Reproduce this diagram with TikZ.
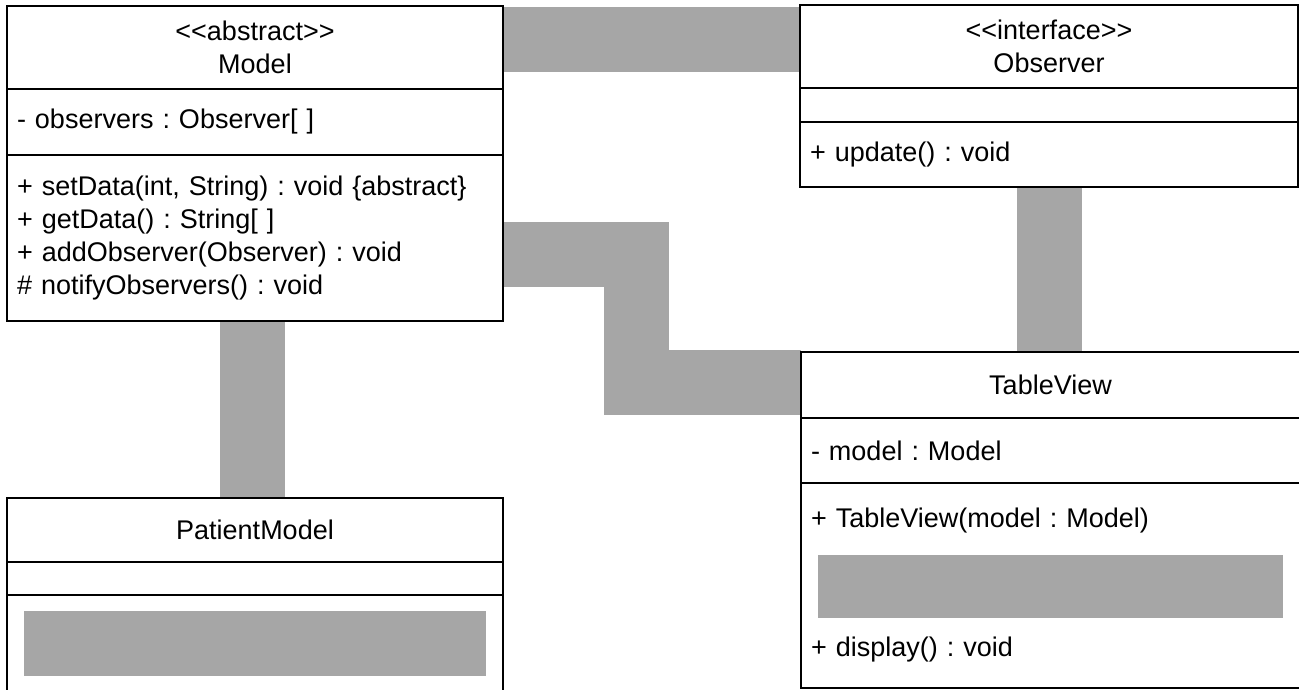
\documentclass[tikz,border=0pt]{standalone}
\usepackage{fontspec}
\setmainfont{Liberation Sans}[Ligatures=TeXOff]
\usetikzlibrary{positioning,backgrounds}
\frenchspacing
\tikzset{class head/.style={rectangle,draw,line width=2pt,fill=white,outer sep=0pt,inner sep=0pt,align=center,font=\fontsize{27}{33}\selectfont},
  class part/.style={rectangle,draw,line width=2pt,fill=white,outer sep=0pt,inner xsep=10pt,inner ysep=0pt,align=left,font=\fontsize{27}{33}\selectfont},
  cover/.style={draw=black!35,line width=65pt},
  cover block/.style={fill=black!35,inner sep=0pt},}

\begin{document}
\begin{tikzpicture}[x=1pt,y=-1pt]
    \useasboundingbox (0,0) rectangle (1299,690);

    \begin{scope}
    \node[class head,minimum width=496pt,minimum height=83pt] (model1) at (255,47.5) {<<abstract>>\\Model};
    \node[class part,text width=476pt,minimum height=66pt] (model2) [below=0pt of model1] {- observers : Observer[ ]};
    \node[class part,text width=476pt,minimum height=166pt] (model3) [below=0pt of model2] {+ setData(int, String) : void \{abstract\}\\+ getData() : String[ ]\\+ addObserver(Observer) : void\\\# notifyObservers() : void};
    \end{scope}

    \begin{scope}
    \node[class head,minimum width=498pt,minimum height=83pt] (observer1) at (1049,46.5) {<<interface>>\\Observer};
    \node[class part,text width=478pt,minimum height=34pt] (observer2) [below=0pt of observer1] {};
    \node[class part,text width=478pt,minimum height=65pt] (observer3) [below=0pt of observer2] {+ update() : void};
    \end{scope}

    \begin{scope}
    \node[class head,minimum width=496pt,minimum height=64pt] (patient1) at (255,530) {PatientModel};
    \node[class part,text width=476pt,minimum height=33pt] (patient2) [below=0pt of patient1] {};
    \node[class part,text width=476pt,minimum height=97pt] (patient3) [below=0pt of patient2] {};
    \node[cover block,minimum width=462pt,minimum height=65pt] (patient4) at (patient3.center) {};
    \end{scope}

    \begin{scope}
    \node[class head,minimum width=499pt,minimum height=66pt] (table1) at (1050.5,385) {TableView};
    \node[class part,text width=479pt,minimum height=65pt] (table2) [below=0pt of table1] {- model : Model};
    \node[class part,text width=479pt,minimum height=205pt] (table3) [below=0pt of table2] {+ TableView(model : Model)\\[96pt]+ display() : void};
    \node[cover block,minimum width=465pt,minimum height=63pt] (table4) at ([yshift=-1pt]table3.center) {};
    \end{scope}

    \begin{scope}[on background layer]
    \path[cover]
    ([yshift=8pt]model1.east) -- ([yshift=8pt]model1.east -| observer1.west)
    ([yshift=-16pt]model3.east) -- ++(133,0) |- ([yshift=2.5pt]table1.west)
    (observer3.south) -- (observer3.south |- table1.north)
    ([xshift=-2.5pt]model3.south) -- ([xshift=-2.5pt]model3.south |- patient1.north)
    ;
    \end{scope}
\end{tikzpicture}
\end{document}
